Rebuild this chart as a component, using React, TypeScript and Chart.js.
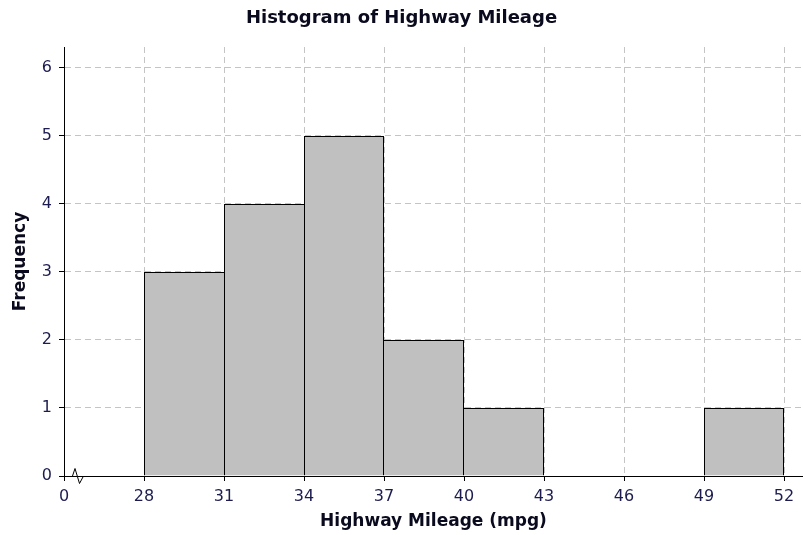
import React, { useEffect, useRef } from "react";
import { Chart, registerables } from "chart.js";

Chart.register(...registerables);

// ---- data ----
const binStarts = [28, 31, 34, 37, 40, 43, 46, 49];
const binWidth = 3;
const frequencies = [3, 4, 5, 2, 1, 0, 0, 1];
const xTickValues = [25, 28, 31, 34, 37, 40, 43, 46, 49, 52];
const xTickLabels = ["0", "28", "31", "34", "37", "40", "43", "46", "49", "52"];
const yTickValues = [0, 1, 2, 3, 4, 5, 6];
const chartTitle = "Histogram of Highway Mileage";
const xTitle = "Highway Mileage (mpg)";
const yTitle = "Frequency";

const FONT = "'DejaVu Sans', Verdana, sans-serif";
const TICK_COLOR = "#1c1c50";
const TITLE_COLOR = "#0a0a1e";
const GRID_COLOR = "#c4c4c4";

const axisBreakPlugin = {
  id: "axisBreak",
  afterDraw(chart: any) {
    const xs = chart.scales.x;
    const ys = chart.scales.y;
    const x = xs.getPixelForValue(xTickValues[0]);
    const y = ys.getPixelForValue(0);
    const ctx = chart.ctx;
    ctx.save();
    ctx.strokeStyle = "#000";
    ctx.lineWidth = 1;
    ctx.beginPath();
    ctx.moveTo(x + 8.5, y);
    ctx.lineTo(x + 11, y - 7.5);
    ctx.lineTo(x + 15.5, y + 7.5);
    ctx.lineTo(x + 19.5, y);
    ctx.stroke();
    ctx.restore();
  },
};

export default function App() {
  const canvasRef = useRef<HTMLCanvasElement | null>(null);

  useEffect(() => {
    document.body.style.margin = "0";
    const canvas = canvasRef.current;
    if (!canvas) return;

    const data = binStarts.map((s, i) => ({ x: s + binWidth / 2, y: frequencies[i] }));

    const chart = new Chart(canvas, {
      type: "bar",
      data: {
        datasets: [
          {
            data: data as any,
            backgroundColor: "#c0c0c0",
            borderColor: "#000000",
            borderSkipped: false,
            borderWidth: ((ctx: any) => {
              const i = ctx.dataIndex;
              const cur = frequencies[i];
              const prev = i > 0 ? frequencies[i - 1] : -1;
              const next = i < frequencies.length - 1 ? frequencies[i + 1] : -1;
              return {
                top: 1,
                bottom: 0,
                left: prev <= cur ? 1 : 0,
                right: next < cur ? 1 : 0,
              };
            }) as any,
            barPercentage: 1,
            categoryPercentage: 1,
            inflateAmount: 0,
          } as any,
        ],
      },
      options: {
        responsive: false,
        animation: false,
        devicePixelRatio: 1,
        layout: { padding: 0 },
        plugins: {
          legend: { display: false },
          tooltip: { enabled: false },
          title: {
            display: true,
            text: chartTitle,
            color: TITLE_COLOR,
            font: { family: FONT, size: 18, weight: "bold" },
            padding: { top: 8, bottom: 17.4 },
          },
        },
        scales: {
          x: {
            type: "linear",
            min: 25,
            max: 52.7125,
            offset: false,
            afterBuildTicks: (s: any) => {
              s.ticks = xTickValues.map((v) => ({ value: v }));
            },
            afterFit: (s: any) => {
              s.height = 59;
            },
            ticks: {
              autoSkip: false,
              maxRotation: 0,
              padding: 6,
              color: TICK_COLOR,
              font: { family: FONT, size: 16 },
              callback: (v: any) => {
                const idx = xTickValues.indexOf(Number(v));
                return idx >= 0 ? xTickLabels[idx] : "";
              },
            },
            grid: {
              color: GRID_COLOR,
              lineWidth: 1,
              tickLength: 5,
              tickColor: "#000",
              tickWidth: 1,
              tickBorderDash: [],
              offset: false,
              borderDash: [6, 4],
            } as any,
            border: { display: true, color: "#000", width: 1, dash: [6, 4] },
            title: {
              display: true,
              text: xTitle,
              color: TITLE_COLOR,
              font: { family: FONT, size: 17, weight: "bold" },
              padding: { top: 0, bottom: 3 },
            },
          } as any,
          y: {
            type: "linear",
            min: 0,
            max: 6.3088,
            afterBuildTicks: (s: any) => {
              s.ticks = yTickValues.map((v) => ({ value: v }));
            },
            afterFit: (s: any) => {
              s.width = 64;
            },
            ticks: {
              padding: 7,
              color: TICK_COLOR,
              font: { family: FONT, size: 16 },
            },
            grid: {
              color: GRID_COLOR,
              lineWidth: 1,
              tickLength: 5,
              tickColor: "#000",
              tickWidth: 1,
              tickBorderDash: [],
              borderDash: [6, 4],
            } as any,
            border: { display: true, color: "#000", width: 1, dash: [6, 4] },
            title: {
              display: true,
              text: yTitle,
              color: TITLE_COLOR,
              font: { family: FONT, size: 17, weight: "bold" },
              padding: { top: 10, bottom: 0 },
            },
          } as any,
        },
      },
      plugins: [axisBreakPlugin],
    });

    return () => chart.destroy();
  }, []);

  return (
    <div style={{ width: 803, height: 535 }}>
      <canvas ref={canvasRef} width={803} height={535} style={{ display: "block" }} />
    </div>
  );
}
